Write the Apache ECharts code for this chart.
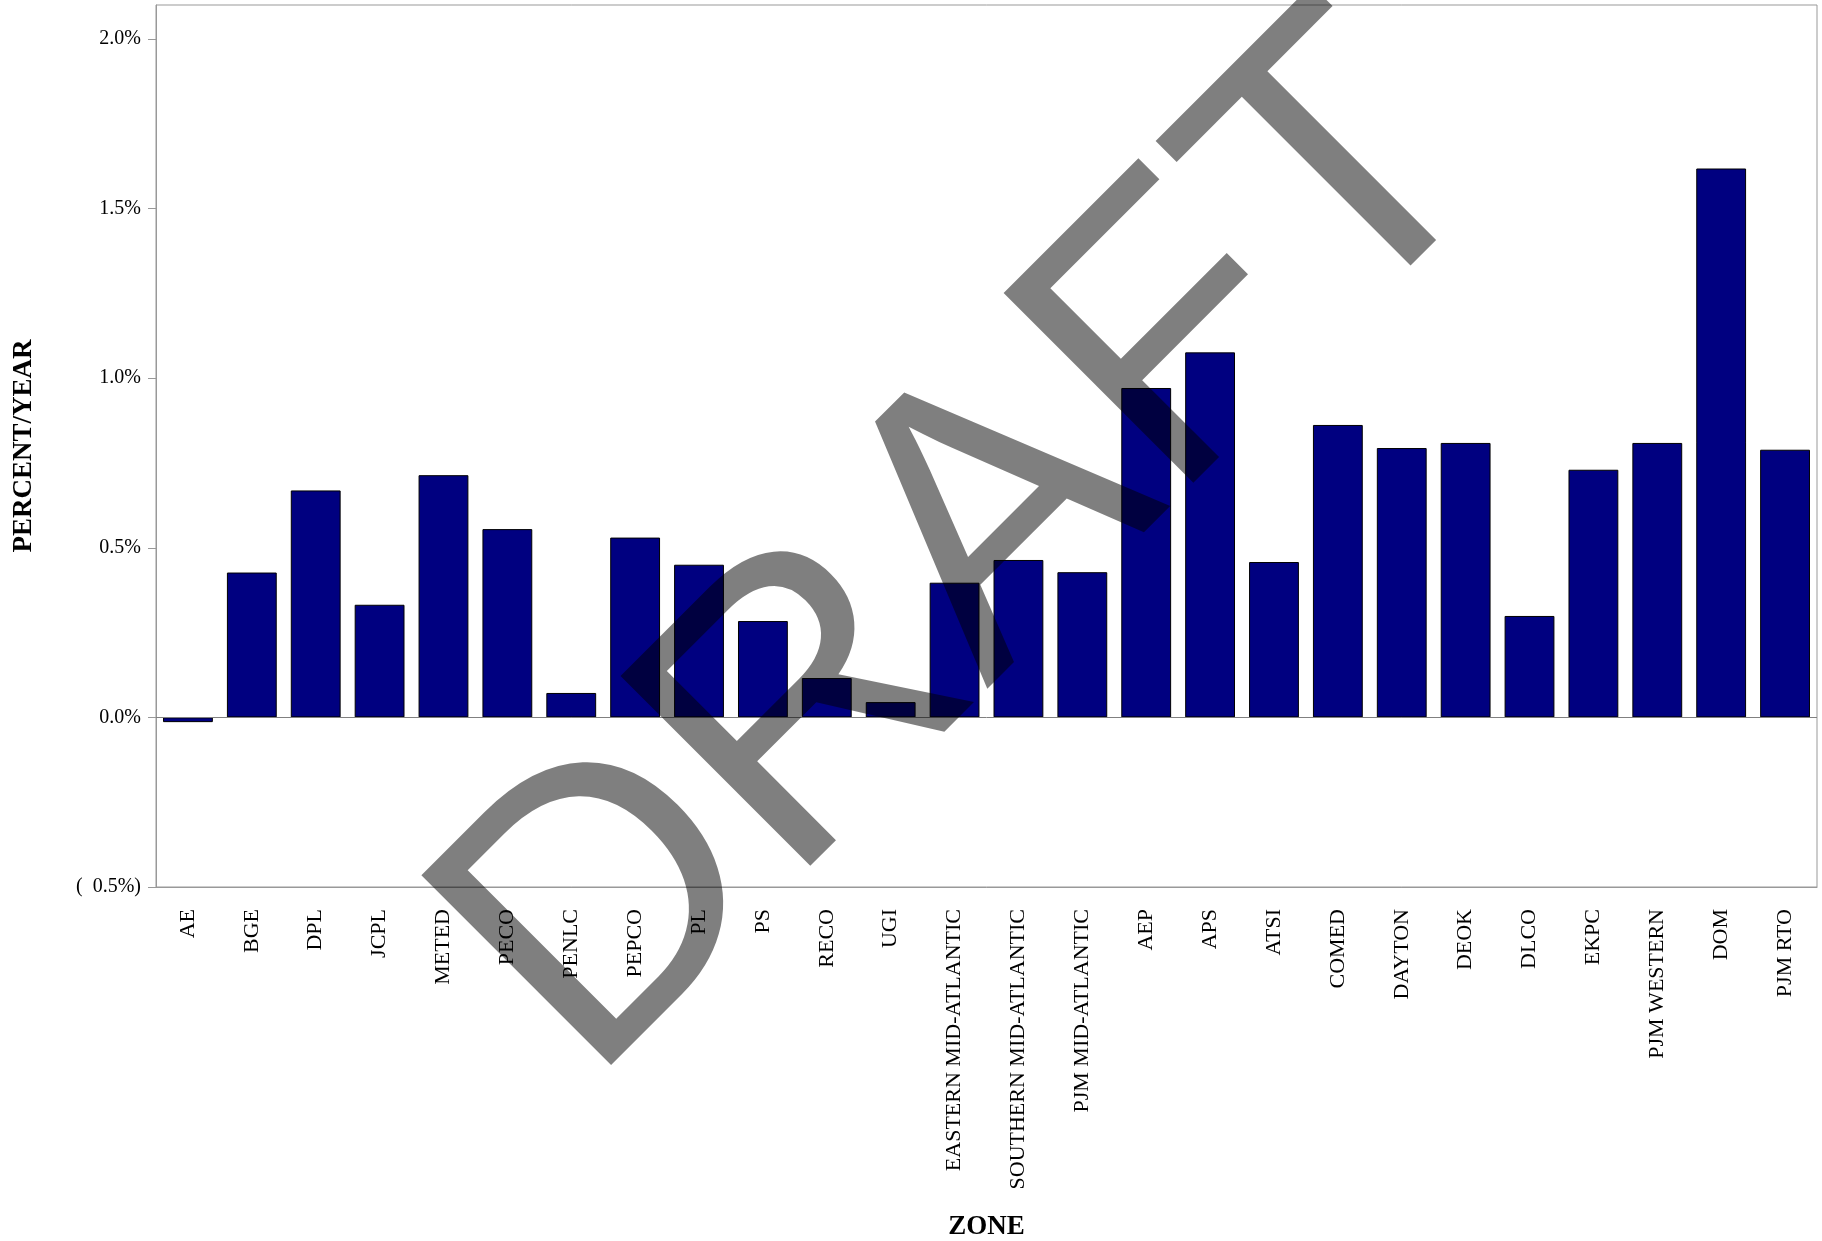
<!DOCTYPE html>
<html>
<head>
<meta charset="utf-8">
<script src="https://cdn.jsdelivr.net/npm/echarts@6/dist/echarts.min.js"></script>
<style>
html,body{margin:0;padding:0;background:#fff;}
#chart{width:1822px;height:1241px;}
</style>
</head>
<body>
<div id="chart"></div>
<script>
const zones = ['AE','BGE','DPL','JCPL','METED','PECO','PENLC','PEPCO','PL','PS','RECO','UGI',
  'EASTERN MID-ATLANTIC','SOUTHERN MID-ATLANTIC','PJM MID-ATLANTIC','AEP','APS','ATSI','COMED',
  'DAYTON','DEOK','DLCO','EKPC','PJM WESTERN','DOM','PJM RTO'];
const growthPct = [-0.014,0.427,0.669,0.332,0.714,0.555,0.072,0.530,0.450,0.284,0.116,0.045,
  0.397,0.464,0.428,0.971,1.076,0.458,0.862,0.794,0.809,0.299,0.730,0.809,1.618,0.789];
const yTicks = [-0.5,0,0.5,1.0,1.5,2.0];
const yAxisTitle = 'PERCENT/YEAR';
const xAxisTitle = 'ZONE';
const watermark = 'DRAFT';

const chart = echarts.init(document.getElementById('chart'));
const serif = '"Liberation Serif","Times New Roman",serif';
chart.setOption({
  animation:false,
  backgroundColor:'#fff',
  grid:{left:156,right:5,top:5,bottom:354,containLabel:false,outerBoundsMode:'none',
    show:true,borderColor:'#999',borderWidth:1,backgroundColor:'transparent'},
  xAxis:{
    type:'category',
    data:zones,
    name:xAxisTitle,
    nameLocation:'middle',
    nameGap:327,
    nameTextStyle:{fontFamily:serif,fontWeight:'bold',fontSize:27,color:'#000'},
    axisLine:{onZero:false,lineStyle:{color:'#999',width:1}},
    axisTick:{show:false},
    axisLabel:{rotate:90,interval:0,margin:22,fontFamily:serif,fontSize:22,color:'#000'},
    splitLine:{show:false}
  },
  yAxis:{
    type:'value',
    min:-0.5,max:2.1,interval:0.5,
    name:yAxisTitle,
    nameLocation:'middle',
    nameGap:118,
    nameTextStyle:{fontFamily:serif,fontWeight:'bold',fontSize:27,color:'#000'},
    axisLine:{show:true,lineStyle:{color:'#999',width:1}},
    axisTick:{show:true,length:8,customValues:yTicks,lineStyle:{color:'#999'}},
    axisLabel:{customValues:yTicks,margin:15,fontFamily:serif,fontSize:20,color:'#000',
      formatter:function(v){return v<0?'(  '+Math.abs(v).toFixed(1)+'%)':v.toFixed(1)+'%';}},
    splitLine:{show:false}
  },
  series:[{
    type:'bar',
    data:growthPct,
    barCategoryGap:'22%',
    itemStyle:{color:'#000080',borderColor:'#000',borderWidth:1},
    markLine:{silent:true,symbol:'none',label:{show:false},
      lineStyle:{color:'#808080',width:1,type:'solid'},data:[{yAxis:0}]}
  }],
  graphic:[{
    type:'text',
    x:972,y:552,
    rotation:Math.PI/4,
    z:100,
    silent:true,
    style:{text:watermark,font:'390px "Liberation Sans", Arial, sans-serif',
      fill:'rgba(0,0,0,0.5)',align:'center',verticalAlign:'middle'}
  }]
});
</script>
</body>
</html>
